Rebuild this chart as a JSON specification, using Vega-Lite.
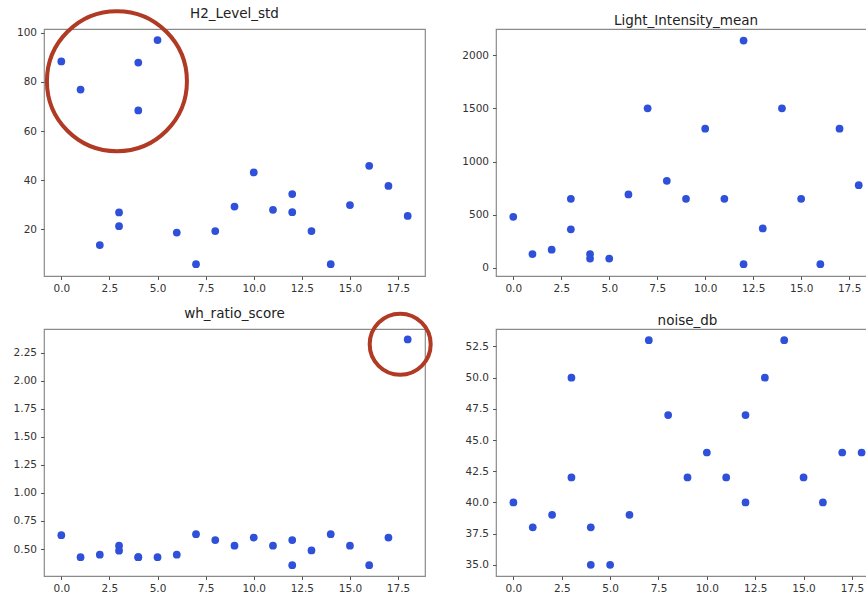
{
  "$schema": "https://vega.github.io/schema/vega-lite/v6.json",
  "background": "white",
  "padding": {"left": 12, "top": 2, "right": 0, "bottom": 0},
  "config": {
    "font": "DejaVu Sans",
    "view": {"stroke": "#8a8a8a", "strokeWidth": 1.2},
    "axis": {"grid": false, "domain": false, "tickColor": "#555555", "tickSize": 3.5, "labelFontSize": 10.5, "labelColor": "#333333", "labelPadding": 4, "labelOverlap": false},
    "title": {"fontSize": 13.5, "fontWeight": "normal", "color": "#222222", "offset": 2, "frame": "group"}
  },
  "datasets": {
    "sensors": [
      {"i": 0, "H2_Level_std": 88.4, "Light_Intensity_mean": 481, "wh_ratio_score": 0.623, "noise_db": 40},
      {"i": 1, "H2_Level_std": 76.9, "Light_Intensity_mean": 131, "wh_ratio_score": 0.428, "noise_db": 38},
      {"i": 2, "H2_Level_std": 13.5, "Light_Intensity_mean": 172, "wh_ratio_score": 0.45, "noise_db": 39},
      {"i": 3, "H2_Level_std": 26.8, "Light_Intensity_mean": 650, "wh_ratio_score": 0.53, "noise_db": 50},
      {"i": 3, "H2_Level_std": 21.2, "Light_Intensity_mean": 363, "wh_ratio_score": 0.486, "noise_db": 42},
      {"i": 4, "H2_Level_std": 87.9, "Light_Intensity_mean": 131, "wh_ratio_score": 0.428, "noise_db": 38},
      {"i": 4, "H2_Level_std": 68.4, "Light_Intensity_mean": 88, "wh_ratio_score": 0.428, "noise_db": 35},
      {"i": 5, "H2_Level_std": 97.1, "Light_Intensity_mean": 88, "wh_ratio_score": 0.428, "noise_db": 35},
      {"i": 6, "H2_Level_std": 18.6, "Light_Intensity_mean": 691, "wh_ratio_score": 0.45, "noise_db": 39},
      {"i": 7, "H2_Level_std": 5.7, "Light_Intensity_mean": 1500, "wh_ratio_score": 0.632, "noise_db": 53},
      {"i": 8, "H2_Level_std": 19.2, "Light_Intensity_mean": 819, "wh_ratio_score": 0.58, "noise_db": 47},
      {"i": 9, "H2_Level_std": 29.2, "Light_Intensity_mean": 650, "wh_ratio_score": 0.53, "noise_db": 42},
      {"i": 10, "H2_Level_std": 43.1, "Light_Intensity_mean": 1309, "wh_ratio_score": 0.602, "noise_db": 44},
      {"i": 11, "H2_Level_std": 27.9, "Light_Intensity_mean": 650, "wh_ratio_score": 0.53, "noise_db": 42},
      {"i": 12, "H2_Level_std": 34.3, "Light_Intensity_mean": 2137, "wh_ratio_score": 0.58, "noise_db": 47},
      {"i": 12, "H2_Level_std": 26.9, "Light_Intensity_mean": 35, "wh_ratio_score": 0.356, "noise_db": 40},
      {"i": 13, "H2_Level_std": 19.2, "Light_Intensity_mean": 372, "wh_ratio_score": 0.488, "noise_db": 50},
      {"i": 14, "H2_Level_std": 5.7, "Light_Intensity_mean": 1500, "wh_ratio_score": 0.632, "noise_db": 53},
      {"i": 15, "H2_Level_std": 29.8, "Light_Intensity_mean": 650, "wh_ratio_score": 0.53, "noise_db": 42},
      {"i": 16, "H2_Level_std": 45.8, "Light_Intensity_mean": 35, "wh_ratio_score": 0.356, "noise_db": 40},
      {"i": 17, "H2_Level_std": 37.6, "Light_Intensity_mean": 1309, "wh_ratio_score": 0.602, "noise_db": 44},
      {"i": 18, "H2_Level_std": 25.4, "Light_Intensity_mean": 778, "wh_ratio_score": 2.367, "noise_db": 44}
    ],
    "ann1": [{"x": 2.89, "y": 80.3}],
    "ann2": [{"x": 17.61, "y": 2.324}]
  },
  "bounds": "flush",
  "columns": 2,
  "spacing": {"row": 53, "column": 71},
  "concat": [
    {
      "title": {"text": "H2_Level_std", "offset": -17},
      "width": 381,
      "height": 247,
      "layer": [
        {
          "data": {"name": "sensors"},
          "mark": {"type": "point", "filled": true, "size": 60, "color": "#2f50d8", "opacity": 1},
          "encoding": {
            "x": {"field": "i", "type": "quantitative", "title": null, "scale": {"domain": [-0.9, 18.9], "nice": false, "zero": false}, "axis": {"values": [0, 2.5, 5, 7.5, 10, 12.5, 15, 17.5], "format": ".1f"}},
            "y": {"field": "H2_Level_std", "type": "quantitative", "title": null, "scale": {"domain": [0.9, 101.6], "nice": false, "zero": false}, "axis": {"values": [20, 40, 60, 80, 100], "format": "d"}}
          }
        },
        {
          "data": {"name": "ann1"},
          "mark": {"type": "point", "shape": "circle", "size": 19600, "filled": false, "stroke": "#b03a24", "strokeWidth": 4, "opacity": 1, "clip": false},
          "encoding": {
            "x": {"field": "x", "type": "quantitative", "title": null, "axis": {"values": [0, 2.5, 5, 7.5, 10, 12.5, 15, 17.5], "format": ".1f"}},
            "y": {"field": "y", "type": "quantitative", "title": null, "axis": {"values": [20, 40, 60, 80, 100], "format": "d"}}
          }
        }
      ]
    },
    {
      "title": "Light_Intensity_mean",
      "width": 380,
      "height": 247,
      "data": {"name": "sensors"},
      "mark": {"type": "point", "filled": true, "size": 60, "color": "#2f50d8", "opacity": 1},
      "encoding": {
        "x": {"field": "i", "type": "quantitative", "title": null, "scale": {"domain": [-0.9, 18.9], "nice": false, "zero": false}, "axis": {"values": [0, 2.5, 5, 7.5, 10, 12.5, 15, 17.5], "format": ".1f"}},
        "y": {"field": "Light_Intensity_mean", "type": "quantitative", "title": null, "scale": {"domain": [-75.5, 2245.5], "nice": false, "zero": false}, "axis": {"values": [0, 500, 1000, 1500, 2000], "format": "d"}}
      }
    },
    {
      "title": {"text": "wh_ratio_score", "offset": -14.5},
      "width": 381,
      "height": 247,
      "layer": [
        {
          "data": {"name": "sensors"},
          "mark": {"type": "point", "filled": true, "size": 60, "color": "#2f50d8", "opacity": 1},
          "encoding": {
            "x": {"field": "i", "type": "quantitative", "title": null, "scale": {"domain": [-0.9, 18.9], "nice": false, "zero": false}, "axis": {"values": [0, 2.5, 5, 7.5, 10, 12.5, 15, 17.5], "format": ".1f"}},
            "y": {"field": "wh_ratio_score", "type": "quantitative", "title": null, "scale": {"domain": [0.26, 2.46], "nice": false, "zero": false}, "axis": {"values": [0.5, 0.75, 1, 1.25, 1.5, 1.75, 2, 2.25], "format": ".2f"}}
          }
        },
        {
          "data": {"name": "ann2"},
          "mark": {"type": "point", "shape": "circle", "size": 3721, "filled": false, "stroke": "#b03a24", "strokeWidth": 4, "opacity": 1, "clip": false},
          "encoding": {
            "x": {"field": "x", "type": "quantitative", "title": null, "axis": {"values": [0, 2.5, 5, 7.5, 10, 12.5, 15, 17.5], "format": ".1f"}},
            "y": {"field": "y", "type": "quantitative", "title": null, "axis": {"values": [0.5, 0.75, 1, 1.25, 1.5, 1.75, 2, 2.25], "format": ".2f"}}
          }
        }
      ]
    },
    {
      "title": "noise_db",
      "width": 383,
      "height": 247,
      "data": {"name": "sensors"},
      "mark": {"type": "point", "filled": true, "size": 60, "color": "#2f50d8", "opacity": 1},
      "encoding": {
        "x": {"field": "i", "type": "quantitative", "title": null, "scale": {"domain": [-0.9, 18.9], "nice": false, "zero": false}, "axis": {"values": [0, 2.5, 5, 7.5, 10, 12.5, 15, 17.5], "format": ".1f"}},
        "y": {"field": "noise_db", "type": "quantitative", "title": null, "scale": {"domain": [34.1, 53.9], "nice": false, "zero": false}, "axis": {"values": [35, 37.5, 40, 42.5, 45, 47.5, 50, 52.5], "format": ".1f"}}
      }
    }
  ]
}
